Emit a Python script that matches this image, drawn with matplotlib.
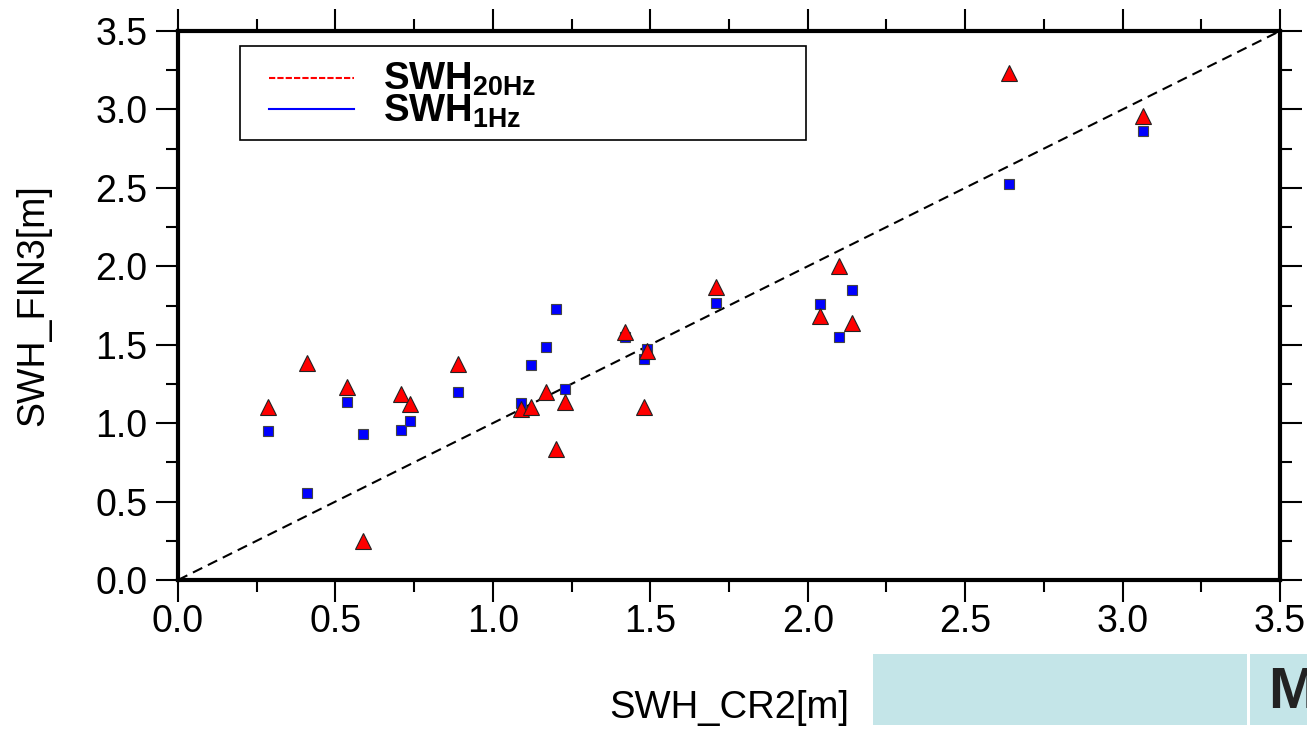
import matplotlib
matplotlib.use('Agg')
import matplotlib.pyplot as plt
from matplotlib.patches import Rectangle
from matplotlib.lines import Line2D
from matplotlib.ticker import MultipleLocator

plt.rcParams['font.family'] = 'Liberation Sans'
plt.rcParams['mathtext.fontset'] = 'custom'
plt.rcParams['mathtext.rm'] = 'Liberation Sans'
plt.rcParams['mathtext.bf'] = 'Liberation Sans:bold'

# SWH from CR2 (x) vs FIN3 (y), 20 Hz and 1 Hz
swh_cr2 = [0.287, 0.41, 0.537, 0.588, 0.708, 0.737, 0.889, 1.09, 1.12, 1.17, 1.20,
           1.23, 1.42, 1.48, 1.49, 1.709, 2.04, 2.10, 2.14, 2.64, 3.065]
swh_20hz = [1.10, 1.385, 1.23, 0.25, 1.186, 1.12, 1.377, 1.09, 1.10, 1.20, 0.835,
            1.135, 1.58, 1.10, 1.46, 1.87, 1.68, 2.00, 1.64, 3.23, 2.96]
swh_1hz = [0.95, 0.555, 1.135, 0.93, 0.956, 1.014, 1.198, 1.13, 1.37, 1.485, 1.73,
           1.22, 1.55, 1.41, 1.47, 1.766, 1.76, 1.55, 1.85, 2.525, 2.86]
diag = [0.0, 3.5]

fig = plt.figure(figsize=(13.07, 7.30), dpi=100, facecolor='white')
ax = fig.add_axes([0.1362, 0.2055, 0.8431, 0.752])

ax.plot(diag, diag, color='black', linewidth=1.5, linestyle=(0, (5, 3)), zorder=2)
ax.plot(swh_cr2, swh_1hz, linestyle='none', marker='s', markersize=6.5,
        markerfacecolor='#0000ff', markeredgecolor='#444444', markeredgewidth=0.8, zorder=3)
ax.plot(swh_cr2, swh_20hz, linestyle='none', marker='^', markersize=11.5,
        markerfacecolor='#ff0000', markeredgecolor='#222222', markeredgewidth=0.8, zorder=4)

ax.set_xlim(0, 3.5)
ax.set_ylim(0, 3.5)
ax.xaxis.set_major_locator(MultipleLocator(0.5))
ax.xaxis.set_minor_locator(MultipleLocator(0.25))
ax.yaxis.set_major_locator(MultipleLocator(0.5))
ax.yaxis.set_minor_locator(MultipleLocator(0.25))
ax.xaxis.set_major_formatter(matplotlib.ticker.FormatStrFormatter('%.1f'))
ax.yaxis.set_major_formatter(matplotlib.ticker.FormatStrFormatter('%.1f'))

for s in ax.spines.values():
    s.set_linewidth(3)
ax.tick_params(which='both', direction='out', top=True, right=True, width=1.5)
ax.tick_params(which='major', length=16, labelsize=27)
ax.tick_params(which='minor', length=8.5)
ax.tick_params(axis='x', which='major', pad=1)
ax.tick_params(axis='y', which='major', pad=6)

ax.set_xlabel('SWH_CR2[m]', fontsize=27.5, va='baseline')
ax.xaxis.set_label_coords(0.5, -0.2514)
ax.set_ylabel('SWH_FIN3[m]', fontsize=27)
ax.yaxis.set_label_coords(-0.1152, 0.5)

# legend box drawn by hand
ax.add_patch(Rectangle((0.0563, 0.8015), 0.5137, 0.1712, transform=ax.transAxes,
                       facecolor='white', edgecolor='black', linewidth=1.2, zorder=5))
ax.add_line(Line2D([0.0826, 0.1597], [0.9144, 0.9144], transform=ax.transAxes,
                   color='#ff0000', linewidth=1.5, linestyle=(0, (3, 1)), zorder=6))
ax.add_line(Line2D([0.0826, 0.1597], [0.858, 0.858], transform=ax.transAxes,
                   color='#0000ff', linewidth=1.5, zorder=6))
ax.text(0.186, 0.8925, r'$\mathbf{SWH_{20Hz}}$', transform=ax.transAxes,
        fontsize=27.5, va='baseline', ha='left', zorder=6)
ax.text(0.186, 0.834, r'$\mathbf{SWH_{1Hz}}$', transform=ax.transAxes,
        fontsize=27.5, va='baseline', ha='left', zorder=6)

# cyan strip at bottom right
fig.patches.append(Rectangle((0.668, 0.0069), 0.286, 0.0972, transform=fig.transFigure,
                             facecolor='#c4e5e8', edgecolor='none'))
fig.patches.append(Rectangle((0.9564, 0.0069), 0.0436, 0.0972, transform=fig.transFigure,
                             facecolor='#c4e5e8', edgecolor='none'))
fig.text(0.970, 0.030, 'M', fontsize=42, fontweight='bold', color='#222222',
         ha='left', va='baseline')

plt.savefig('out.png', dpi=100, facecolor='white')
